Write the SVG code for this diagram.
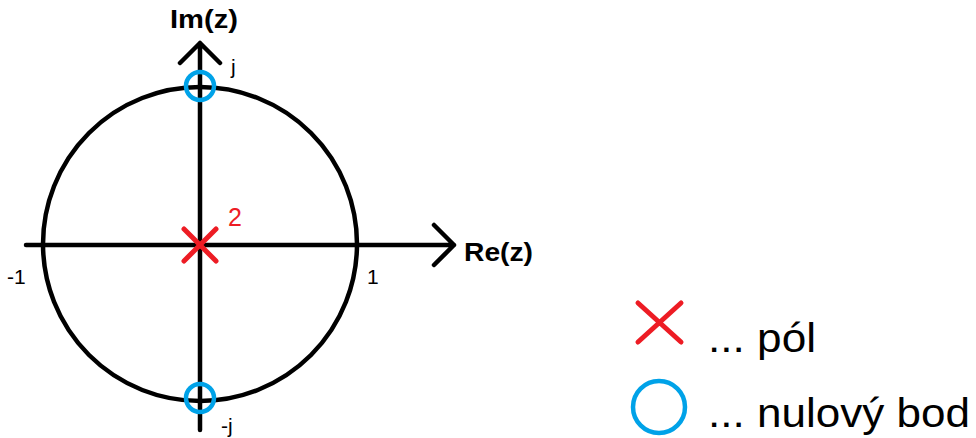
<svg xmlns="http://www.w3.org/2000/svg" width="976" height="438" viewBox="0 0 976 438">
<style>
.ax{stroke:#000;stroke-width:4.5;fill:none;stroke-linecap:round;stroke-linejoin:round}
.zero{stroke:#00A2E8;stroke-width:4.5;fill:none}
.pole{stroke:#ED1C24;stroke-width:5;stroke-linecap:round}
.t{font-family:"Liberation Sans",Arial,sans-serif;fill:#000}
.b{font-weight:bold;font-size:26px}
.s{font-size:21px}
.r{fill:#ED1C24;font-size:25px}
.l{font-size:41px}
</style>
<rect width="976" height="438" fill="#fff"/>
<g id="unit-circle"><circle class="ax" cx="200" cy="244" r="157"/></g>
<g id="connectors">
<path id="re-axis" class="ax" d="M26 245H454M434 225L454 245L434 265"/>
<path id="im-axis" class="ax" d="M200 430V43M180 63L200 43L220 63"/>
</g>
<g id="zero-j"><circle class="zero" cx="200" cy="86" r="14"/></g>
<g id="zero-minus-j"><circle class="zero" cx="200" cy="398" r="14"/></g>
<g id="pole"><path class="pole" d="M184 229L216 261M216 229L184 261"/><text class="t r" x="228" y="226">2</text></g>
<g id="labels">
<text class="t b" x="170" y="28" textLength="68" lengthAdjust="spacingAndGlyphs">Im(z)</text>
<text class="t b" x="464" y="261" textLength="69" lengthAdjust="spacingAndGlyphs">Re(z)</text>
<text class="t s" x="231" y="74">j</text>
<text class="t s" x="221" y="433">-j</text>
<text class="t s" x="7" y="284">-1</text>
<text class="t s" x="367" y="284">1</text>
</g>
<g id="legend-pole"><path class="pole" d="M638 303L681 342M681 303L638 342"/><text class="t l" x="708" y="352" textLength="108" lengthAdjust="spacingAndGlyphs">... pól</text></g>
<g id="legend-zero"><circle class="zero" cx="659" cy="407" r="26"/><text class="t l" x="708" y="427" textLength="262" lengthAdjust="spacingAndGlyphs">... nulový bod</text></g>
</svg>
